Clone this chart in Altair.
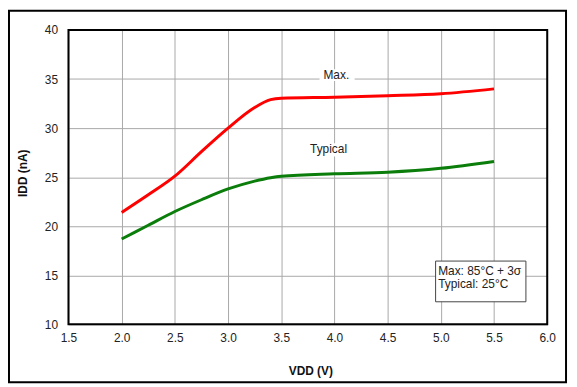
import altair as alt
import pandas as pd

# ---- data ----
vdd = [2.0, 2.25, 2.5, 2.75, 3.0, 3.25, 3.4, 3.5, 4.0, 4.5, 5.0, 5.5]
max_idd = [21.4, 23.2, 25.1, 27.6, 30.0, 32.1, 32.9, 33.05, 33.15, 33.3, 33.5, 34.0]
typ_idd = [18.7, 20.1, 21.5, 22.7, 23.8, 24.6, 24.95, 25.1, 25.35, 25.5, 25.9, 26.6]
series_names = ["Max.", "Typical"]
series_colors = ["#ff0000", "#0a7d0a"]
x_ticks = [1.5, 2.0, 2.5, 3.0, 3.5, 4.0, 4.5, 5.0, 5.5, 6.0]
y_ticks = [10, 15, 20, 25, 30, 35, 40]

# curve labels (data coords)
lab_text = ["Max.", "Typical"]
lab_x = [4.018, 3.945]
lab_y = [35.4, 27.83]
lab_x1 = [3.86, 3.79]
lab_x2 = [4.19, 4.11]
lab_y1 = [36.0, 28.45]
lab_y2 = [34.8, 27.1]

# conditions box
note_lines = ["Max: 85°C + 3σ", "Typical: 25°C"]
note_x = [4.975, 4.975]
note_y = [15.45, 14.1]
box_x1, box_x2, box_y1, box_y2 = 4.951, 5.80, 16.45, 12.3

n = len(vdd)
df = pd.DataFrame({
    "VDD": vdd * 2,
    "IDD": max_idd + typ_idd,
    "series": [series_names[0]] * n + [series_names[1]] * n,
})
df_lab = pd.DataFrame({"x": lab_x, "y": lab_y, "text": lab_text,
                       "x1": lab_x1, "x2": lab_x2, "y1": lab_y1, "y2": lab_y2})
df_note = pd.DataFrame({"x": note_x, "y": note_y, "text": note_lines})
df_box = pd.DataFrame({"x1": [box_x1], "x2": [box_x2], "y1": [box_y1], "y2": [box_y2]})
one = pd.DataFrame({"a": [0]})

W, H = 483, 297
FONT = "Liberation Sans"

xscale = alt.Scale(domain=[1.5, 6.0], nice=False, zero=False)
yscale = alt.Scale(domain=[10, 40], nice=False, zero=False)

x_axis = alt.Axis(values=x_ticks, format=".1f", title="VDD (V)", grid=True,
                  gridColor="#a8a8a8", gridWidth=1, ticks=False, domain=False,
                  labelFont=FONT, labelFontSize=12, labelColor="#222",
                  labelPadding=8, labelFlush=False, labelOverlap=False,
                  titleFont=FONT, titleFontSize=12, titleFontWeight="bold",
                  titleColor="#111", titlePadding=23, titleX=244)
y_axis = alt.Axis(values=y_ticks, format="d", title="IDD (nA)", grid=True,
                  gridColor="#a8a8a8", gridWidth=1, ticks=False, domain=False,
                  labelFont=FONT, labelFontSize=12, labelColor="#222",
                  labelPadding=11, labelOverlap=False,
                  titleFont=FONT, titleFontSize=12, titleFontWeight="bold",
                  titleColor="#111", titlePadding=15, titleY=144)

lines = alt.Chart(df).mark_line(strokeWidth=3, interpolate="monotone").encode(
    x=alt.X("VDD:Q", scale=xscale, axis=x_axis),
    y=alt.Y("IDD:Q", scale=yscale, axis=y_axis),
    color=alt.Color("series:N", scale=alt.Scale(domain=series_names, range=series_colors), legend=None),
)

lab_bg = alt.Chart(df_lab).mark_rect(fill="white").encode(
    x=alt.X("x1:Q", scale=xscale, axis=x_axis), x2="x2:Q",
    y=alt.Y("y1:Q", scale=yscale, axis=y_axis), y2="y2:Q",
)
labels = alt.Chart(df_lab).mark_text(font=FONT, fontSize=12, color="#222").encode(
    x=alt.X("x:Q", scale=xscale, axis=x_axis),
    y=alt.Y("y:Q", scale=yscale, axis=y_axis),
    text="text:N",
)

box = alt.Chart(df_box).mark_rect(fill="white", stroke="#444", strokeWidth=1).encode(
    x=alt.X("x1:Q", scale=xscale, axis=x_axis), x2="x2:Q",
    y=alt.Y("y1:Q", scale=yscale, axis=y_axis), y2="y2:Q",
)
note = alt.Chart(df_note).mark_text(font=FONT, fontSize=12, color="#222", align="left").encode(
    x=alt.X("x:Q", scale=xscale, axis=x_axis),
    y=alt.Y("y:Q", scale=yscale, axis=y_axis),
    text="text:N",
)

frame = alt.Chart(one).mark_rect(fillOpacity=0, stroke="black", strokeWidth=2).encode(
    x=alt.value(0), x2=alt.value(W), y=alt.value(0), y2=alt.value(H)
)
outer = alt.Chart(one).mark_rect(fillOpacity=0, stroke="black", strokeWidth=2).encode(
    x=alt.value(-60), x2=alt.value(502), y=alt.value(-19.5), y2=alt.value(355.5)
)

chart = alt.layer(lines, lab_bg, labels, box, note, frame, outer).properties(
    width=W, height=H,
    padding={"left": 61, "top": 20.5, "right": 22, "bottom": 60.5},
    autosize=alt.AutoSizeParams(type="none"),
    background="white",
).configure_view(stroke=None)

chart.save("out.html", embed_options={"renderer": "svg", "actions": False})
